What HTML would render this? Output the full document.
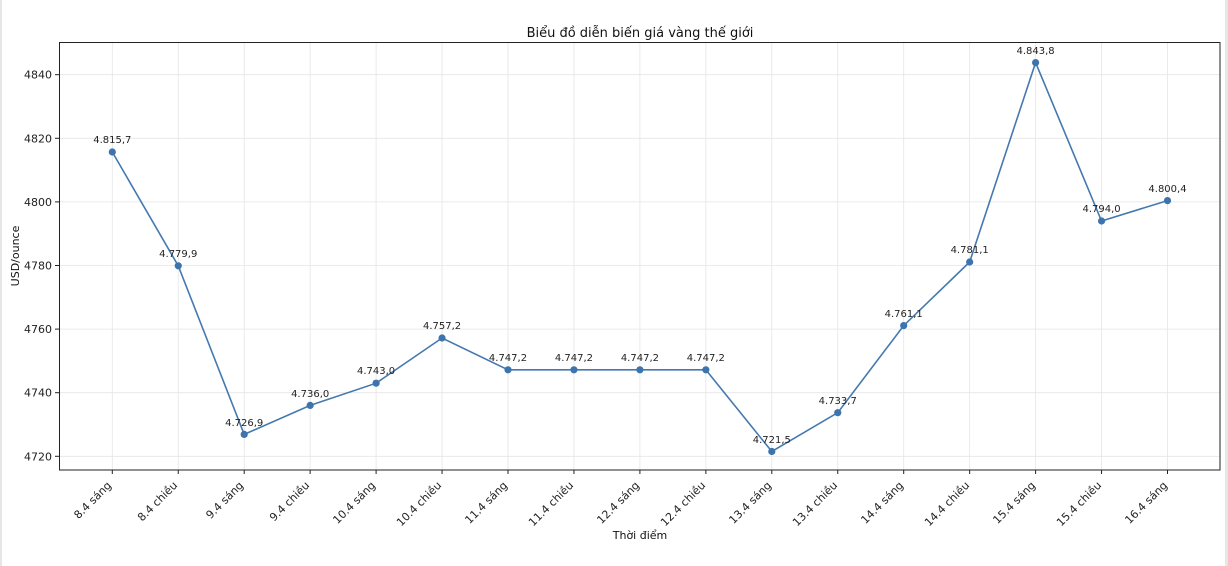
<!DOCTYPE html>
<html><head><meta charset="utf-8"><style>
html,body{margin:0;padding:0;background:#fff;}
svg{display:block;font-family:"DejaVu Sans","Liberation Sans",sans-serif;}
</style></head><body>
<svg width="1228" height="566" viewBox="0 0 1228 566" xmlns="http://www.w3.org/2000/svg">
<rect x="0" y="0" width="1228" height="566" fill="#fff"/>
<rect x="0" y="0" width="2" height="566" fill="#e6e6e6"/>
<rect x="1225" y="0" width="3" height="566" fill="#e6e6e6"/>
<g stroke="#e5e5e5" stroke-width="0.8">
<line x1="59" x2="1220" y1="456.3" y2="456.3"/><line x1="59" x2="1220" y1="392.7" y2="392.7"/><line x1="59" x2="1220" y1="329.1" y2="329.1"/><line x1="59" x2="1220" y1="265.5" y2="265.5"/><line x1="59" x2="1220" y1="201.9" y2="201.9"/><line x1="59" x2="1220" y1="138.3" y2="138.3"/><line x1="59" x2="1220" y1="74.7" y2="74.7"/>
<line y1="42.5" y2="470" x1="112.3" x2="112.3"/><line y1="42.5" y2="470" x1="178.25" x2="178.25"/><line y1="42.5" y2="470" x1="244.2" x2="244.2"/><line y1="42.5" y2="470" x1="310.15" x2="310.15"/><line y1="42.5" y2="470" x1="376.1" x2="376.1"/><line y1="42.5" y2="470" x1="442.05" x2="442.05"/><line y1="42.5" y2="470" x1="508" x2="508"/><line y1="42.5" y2="470" x1="573.95" x2="573.95"/><line y1="42.5" y2="470" x1="639.9" x2="639.9"/><line y1="42.5" y2="470" x1="705.85" x2="705.85"/><line y1="42.5" y2="470" x1="771.8" x2="771.8"/><line y1="42.5" y2="470" x1="837.75" x2="837.75"/><line y1="42.5" y2="470" x1="903.7" x2="903.7"/><line y1="42.5" y2="470" x1="969.65" x2="969.65"/><line y1="42.5" y2="470" x1="1035.6" x2="1035.6"/><line y1="42.5" y2="470" x1="1101.55" x2="1101.55"/><line y1="42.5" y2="470" x1="1167.5" x2="1167.5"/>
</g>
<rect x="59.5" y="42.5" width="1160.5" height="427.5" fill="none" stroke="#222" stroke-width="1"/>
<g stroke="#222" stroke-width="1">
<line x1="55" x2="59" y1="456.3" y2="456.3"/><line x1="55" x2="59" y1="392.7" y2="392.7"/><line x1="55" x2="59" y1="329.1" y2="329.1"/><line x1="55" x2="59" y1="265.5" y2="265.5"/><line x1="55" x2="59" y1="201.9" y2="201.9"/><line x1="55" x2="59" y1="138.3" y2="138.3"/><line x1="55" x2="59" y1="74.7" y2="74.7"/>
</g>
<g font-size="11" fill="#222" text-anchor="end">
<text x="52" y="460.3">4720</text><text x="52" y="396.7">4740</text><text x="52" y="333.1">4760</text><text x="52" y="269.5">4780</text><text x="52" y="205.9">4800</text><text x="52" y="142.3">4820</text><text x="52" y="78.7">4840</text>
</g>
<g font-size="11" fill="#222" text-anchor="end">
<text transform="translate(112,486) rotate(-45)">8.4 sáng</text>
<text transform="translate(178,486) rotate(-45)">8.4 chiều</text>
<text transform="translate(244,486) rotate(-45)">9.4 sáng</text>
<text transform="translate(310,486) rotate(-45)">9.4 chiều</text>
<text transform="translate(376,486) rotate(-45)">10.4 sáng</text>
<text transform="translate(442,486) rotate(-45)">10.4 chiều</text>
<text transform="translate(508,486) rotate(-45)">11.4 sáng</text>
<text transform="translate(574,486) rotate(-45)">11.4 chiều</text>
<text transform="translate(640,486) rotate(-45)">12.4 sáng</text>
<text transform="translate(706,486) rotate(-45)">12.4 chiều</text>
<text transform="translate(772,486) rotate(-45)">13.4 sáng</text>
<text transform="translate(838,486) rotate(-45)">13.4 chiều</text>
<text transform="translate(904,486) rotate(-45)">14.4 sáng</text>
<text transform="translate(970,486) rotate(-45)">14.4 chiều</text>
<text transform="translate(1036,486) rotate(-45)">15.4 sáng</text>
<text transform="translate(1102,486) rotate(-45)">15.4 chiều</text>
<text transform="translate(1168,486) rotate(-45)">16.4 sáng</text>
</g>
<g stroke="#222" stroke-width="1">
<line x1="112.3" x2="112.3" y1="470" y2="474"/><line x1="178.25" x2="178.25" y1="470" y2="474"/><line x1="244.2" x2="244.2" y1="470" y2="474"/><line x1="310.15" x2="310.15" y1="470" y2="474"/><line x1="376.1" x2="376.1" y1="470" y2="474"/><line x1="442.05" x2="442.05" y1="470" y2="474"/><line x1="508" x2="508" y1="470" y2="474"/><line x1="573.95" x2="573.95" y1="470" y2="474"/><line x1="639.9" x2="639.9" y1="470" y2="474"/><line x1="705.85" x2="705.85" y1="470" y2="474"/><line x1="771.8" x2="771.8" y1="470" y2="474"/><line x1="837.75" x2="837.75" y1="470" y2="474"/><line x1="903.7" x2="903.7" y1="470" y2="474"/><line x1="969.65" x2="969.65" y1="470" y2="474"/><line x1="1035.6" x2="1035.6" y1="470" y2="474"/><line x1="1101.55" x2="1101.55" y1="470" y2="474"/><line x1="1167.5" x2="1167.5" y1="470" y2="474"/>
</g>
<polyline fill="none" stroke="#4479b0" stroke-width="1.6" points="112.3,152 178.25,265.8 244.2,434.4 310.15,405.4 376.1,383.2 442.05,338 508,369.8 573.95,369.8 639.9,369.8 705.85,369.8 771.8,451.5 837.75,412.7 903.7,325.6 969.65,262 1035.6,62.6 1101.55,221 1167.5,200.6"/>
<g fill="#3d74ad">
<circle cx="112.3" cy="152" r="3.6"/><circle cx="178.25" cy="265.8" r="3.6"/><circle cx="244.2" cy="434.4" r="3.6"/><circle cx="310.15" cy="405.4" r="3.6"/><circle cx="376.1" cy="383.2" r="3.6"/><circle cx="442.05" cy="338" r="3.6"/><circle cx="508" cy="369.8" r="3.6"/><circle cx="573.95" cy="369.8" r="3.6"/><circle cx="639.9" cy="369.8" r="3.6"/><circle cx="705.85" cy="369.8" r="3.6"/><circle cx="771.8" cy="451.5" r="3.6"/><circle cx="837.75" cy="412.7" r="3.6"/><circle cx="903.7" cy="325.6" r="3.6"/><circle cx="969.65" cy="262" r="3.6"/><circle cx="1035.6" cy="62.6" r="3.6"/><circle cx="1101.55" cy="221" r="3.6"/><circle cx="1167.5" cy="200.6" r="3.6"/>
</g>
<g font-size="10" fill="#222" text-anchor="middle">
<text x="112.3" y="143">4.815,7</text><text x="178.25" y="257">4.779,9</text><text x="244.2" y="426">4.726,9</text><text x="310.15" y="397">4.736,0</text><text x="376.1" y="374">4.743,0</text><text x="442.05" y="329">4.757,2</text><text x="508" y="361">4.747,2</text><text x="573.95" y="361">4.747,2</text><text x="639.9" y="361">4.747,2</text><text x="705.85" y="361">4.747,2</text><text x="771.8" y="443">4.721,5</text><text x="837.75" y="404">4.733,7</text><text x="903.7" y="317">4.761,1</text><text x="969.65" y="253">4.781,1</text><text x="1035.6" y="54">4.843,8</text><text x="1101.55" y="212">4.794,0</text><text x="1167.5" y="192">4.800,4</text>
</g>
<text x="640" y="37" font-size="13" text-anchor="middle" fill="#111">Biểu đồ diễn biến giá vàng thế giới</text>
<text x="640" y="539" font-size="11" text-anchor="middle" fill="#111">Thời điểm</text>
<text transform="translate(19,256) rotate(-90)" font-size="11" text-anchor="middle" fill="#111">USD/ounce</text>
</svg>
</body></html>
